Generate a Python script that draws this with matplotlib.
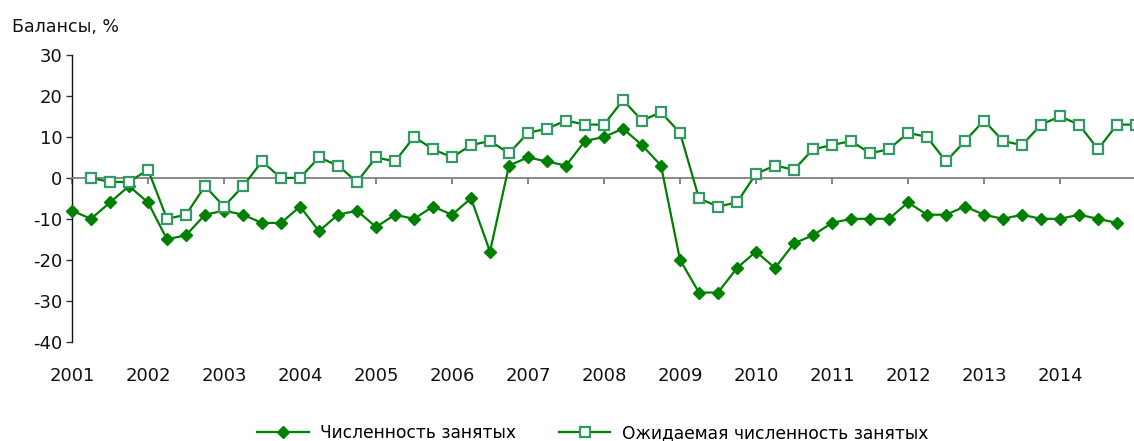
import matplotlib
matplotlib.use('Agg')
import matplotlib.pyplot as plt

plt.rcParams['font.family'] = ['DejaVu Sans']
plt.rcParams['axes.unicode_minus'] = False

years = [str(y) for y in range(2001, 2015)]
year_pos = [4 * i for i in range(len(years))]

# Quarterly balances, 2001Q1 .. 2014Q4
employment = [-8, -10, -6, -2, -6, -15, -14, -9, -8, -9, -11, -11, -7, -13, -9, -8,
              -12, -9, -10, -7, -9, -5, -18, 3, 5, 4, 3, 9, 10, 12, 8, 3,
              -20, -28, -28, -22, -18, -22, -16, -14, -11, -10, -10, -10, -6, -9, -9, -7,
              -9, -10, -9, -10, -10, -9, -10, -11]
# Expected employment, 2001Q2 .. 2015Q1
expected = [0, -1, -1, 2, -10, -9, -2, -7, -2, 4, 0, 0, 5, 3, -1, 5,
            4, 10, 7, 5, 8, 9, 6, 11, 12, 14, 13, 13, 19, 14, 16, 11,
            -5, -7, -6, 1, 3, 2, 7, 8, 9, 6, 7, 11, 10, 4, 9, 14,
            9, 8, 13, 15, 13, 7, 13, 13]
employment_x = list(range(len(employment)))
expected_x = list(range(1, len(expected) + 1))

W, H = 1134, 441
fig = plt.figure(figsize=(W / 100, H / 100), dpi=100)
x0, ytop, ybot = 72, 55, 341.7
ax = fig.add_axes([x0 / W, (H - ybot) / H, 1 - x0 / W, (ybot - ytop) / H])

dark = '#008000'
sq_edge = '#339966'
ax.plot(employment_x, employment, color=dark, lw=1.6, marker='D', ms=6.3,
        mfc=dark, mec=dark, label='Численность занятых', clip_on=False, zorder=3)
ax.plot(expected_x, expected, color=dark, lw=1.6, marker='s', ms=6.8,
        mfc='white', mec=sq_edge, mew=1.6,
        label='Ожидаемая численность занятых', clip_on=False, zorder=4)

ax.set_xlim(0, (W - x0) / 19.0)
ax.set_ylim(-40, 30)
ax.set_yticks(range(-40, 31, 10))
ax.tick_params(axis='y', direction='out', length=4, width=1, color='#333333',
               labelsize=13, pad=3, labelcolor='#111111')

for s in ['top', 'right']:
    ax.spines[s].set_visible(False)
ax.spines['left'].set_color('#111111')
ax.spines['left'].set_linewidth(1.0)
ax.spines['bottom'].set_position(('data', 0))
ax.spines['bottom'].set_color('#808080')
ax.spines['bottom'].set_linewidth(1.3)
ax.set_xticks(year_pos)
ax.tick_params(axis='x', direction='out', length=4, width=1.2, color='#707070',
               labelbottom=False)

sec = ax.secondary_xaxis('bottom')
sec.set_xticks(year_pos, years)
sec.tick_params(length=0, pad=18, labelsize=13, labelcolor='#111111')
for s in sec.spines.values():
    s.set_visible(False)

fig.text(12 / W, 1 - 27 / H, 'Балансы, %', ha='left', va='center',
         fontsize=12.5, color='#111111')

fig.legend(loc='center', bbox_to_anchor=(593 / W, 8 / H), ncol=2, frameon=False,
           fontsize=12.3, handlelength=3.0, handletextpad=0.7, columnspacing=2.5,
           borderaxespad=0, borderpad=0)

fig.savefig('out.png', dpi=100)
